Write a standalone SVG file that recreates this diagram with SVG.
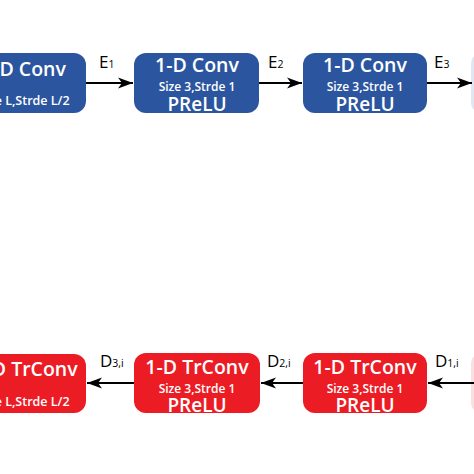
<svg xmlns="http://www.w3.org/2000/svg" width="474" height="474" viewBox="0 0 474 474">
<defs>
<marker id="ah" markerUnits="userSpaceOnUse" markerWidth="16" markerHeight="12" refX="15" refY="6" orient="auto">
<path d="M0,0.5 L15,6 L0,11.5 L4,6 Z" fill="#000"/>
</marker>
<style>
.enc{fill:#2b569f}
.dec{fill:#ec1c24}
.t{font-family:"Open Sans","Noto Sans",sans-serif;fill:#fff;text-anchor:middle;font-weight:600}
.h{font-size:19.5px}
.s{font-size:12px}
.s1{font-size:12.5px}
.p{font-size:19px}
.lab{font-family:"Open Sans","Noto Sans",sans-serif;fill:#000;font-size:17px}
.sub{font-size:10.5px}
.c{stroke:#000;stroke-width:2;fill:none;marker-end:url(#ah)}
</style>
</defs>
<rect width="474" height="474" fill="#fff"/>
<g id="enc1">
<rect class="enc" x="-40" y="53" width="126" height="60" rx="12"/>
<text class="t h" x="24" y="76">1-D Conv</text>
<text class="t s1" x="24" y="105">Size L,Strde L/2</text>
</g>
<g id="enc2">
<rect class="enc" x="134" y="53" width="125" height="60" rx="12"/>
<text class="t h" x="197" y="72">1-D Conv</text>
<text class="t s" x="197" y="91">Size 3,Strde 1</text>
<text class="t p" x="197" y="111">PReLU</text>
</g>
<g id="enc3">
<rect class="enc" x="303" y="53" width="124" height="60" rx="12"/>
<text class="t h" x="365" y="72">1-D Conv</text>
<text class="t s" x="365" y="91">Size 3,Strde 1</text>
<text class="t p" x="365" y="111">PReLU</text>
</g>
<g id="enc4">
<rect x="471" y="53" width="40" height="60" rx="10" fill="#dfe7f3"/>
</g>
<g id="dec1">
<rect class="dec" x="-40" y="354" width="126" height="59" rx="12"/>
<text class="t h" x="26" y="376">1-D TrConv</text>
<text class="t s1" x="24" y="406">Size L,Strde L/2</text>
</g>
<g id="dec2">
<rect class="dec" x="134" y="353" width="126" height="60" rx="12"/>
<text class="t h" x="197" y="374">1-D TrConv</text>
<text class="t s" x="197" y="393">Size 3,Strde 1</text>
<text class="t p" x="197" y="412">PReLU</text>
</g>
<g id="dec3">
<rect class="dec" x="303" y="353" width="124" height="60" rx="12"/>
<text class="t h" x="365" y="374">1-D TrConv</text>
<text class="t s" x="365" y="393">Size 3,Strde 1</text>
<text class="t p" x="365" y="412">PReLU</text>
</g>
<g id="dec4">
<rect x="471" y="353" width="40" height="60" rx="10" fill="#fbe0e0"/>
</g>
<g id="connectors">
<line class="c" x1="86" y1="83" x2="133" y2="83"/>
<line class="c" x1="259" y1="83" x2="302" y2="83"/>
<line class="c" x1="427" y1="83" x2="472" y2="83"/>
<line class="c" x1="134" y1="383" x2="87" y2="383"/>
<line class="c" x1="303" y1="383" x2="261" y2="383"/>
<line class="c" x1="474" y1="383" x2="428" y2="383"/>
</g>
<g id="labels">
<text class="lab" x="99" y="68">E<tspan class="sub">1</tspan></text>
<text class="lab" x="268" y="68">E<tspan class="sub">2</tspan></text>
<text class="lab" x="434" y="68">E<tspan class="sub">3</tspan></text>
<text class="lab" x="100" y="367">D<tspan class="sub">3,i</tspan></text>
<text class="lab" x="267" y="367">D<tspan class="sub">2,i</tspan></text>
<text class="lab" x="435" y="367">D<tspan class="sub">1,i</tspan></text>
</g>
</svg>
